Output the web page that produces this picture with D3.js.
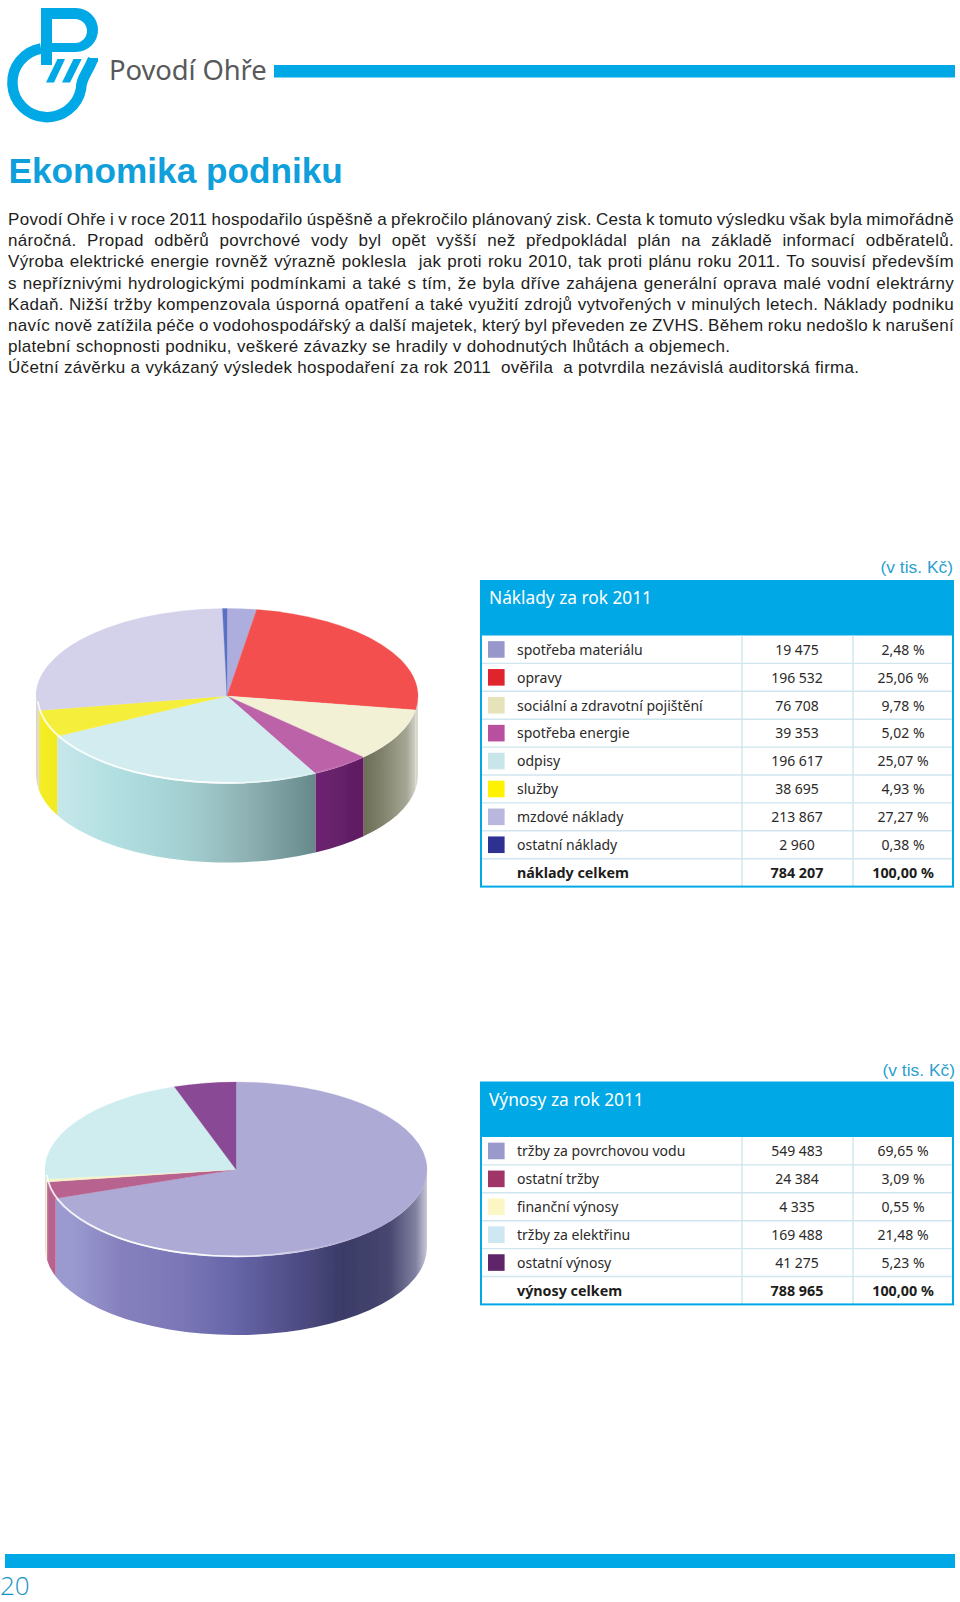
<!DOCTYPE html>
<html lang="cs">
<head>
<meta charset="utf-8">
<title>Ekonomika podniku</title>
<script src="https://cdn.jsdelivr.net/npm/d3@7/dist/d3.min.js"></script>
<style>
html,body{margin:0;padding:0;background:#fff}
svg{display:block}
text{white-space:pre}
</style>
</head>
<body>
<svg id="page" width="960" height="1602" viewBox="0 0 960 1602" xmlns="http://www.w3.org/2000/svg"></svg>
<script>
// ---------- data ----------
const costCategories = ["spotřeba materiálu","opravy","sociální a zdravotní pojištění","spotřeba energie","odpisy","služby","mzdové náklady","ostatní náklady"];
const costValues = [19475,196532,76708,39353,196617,38695,213867,2960];
const costShares = [2.48,25.06,9.78,5.02,25.07,4.93,27.27,0.38];
const costTotalLabel = "náklady celkem";
const costTotal = 784207;
const costTitle = "Náklady za rok 2011";

const revenueCategories = ["tržby za povrchovou vodu","ostatní tržby","finanční výnosy","tržby za elektřinu","ostatní výnosy"];
const revenueValues = [549483,24384,4335,169488,41275];
const revenueShares = [69.65,3.09,0.55,21.48,5.23];
const revenueTotalLabel = "výnosy celkem";
const revenueTotal = 788965;
const revenueTitle = "Výnosy za rok 2011";

const totalShare = 100;
const unitLabel = "(v tis. Kč)";
const pageNumber = "20";
const companyName = "Povodí Ohře";
const heading = "Ekonomika podniku";
const paragraphLines = [
 "Povodí Ohře i v roce 2011 hospodařilo úspěšně a překročilo plánovaný zisk. Cesta k tomuto výsledku však byla mimořádně",
 "náročná. Propad odběrů povrchové vody byl opět vyšší než předpokládal plán na základě informací odběratelů.",
 "Výroba elektrické energie rovněž výrazně poklesla  jak proti roku 2010, tak proti plánu roku 2011. To souvisí především",
 "s nepříznivými hydrologickými podmínkami a také s tím, že byla dříve zahájena generální oprava malé vodní elektrárny",
 "Kadaň. Nižší tržby kompenzovala úsporná opatření a také využití zdrojů vytvořených v minulých letech. Náklady podniku",
 "navíc nově zatížila péče o vodohospodářský a další majetek, který byl převeden ze ZVHS. Během roku nedošlo k narušení",
 "platební schopnosti podniku, veškeré závazky se hradily v dohodnutých lhůtách a objemech.",
 "Účetní závěrku a vykázaný výsledek hospodaření za rok 2011  ověřila  a potvrdila nezávislá auditorská firma."
];

// ---------- palettes ----------
const BLUE = "#00a8e6";
const costTop = ["#adaede","#f4504f","#f2f1d5","#bb62a9","#d2ecef","#f5ee3b","#d3d2ea","#5a6fc0"];
const costSwatch = ["#9797cc","#e0242e","#e6e2b9","#b8509f","#c8e6e9","#fff200","#b9b7dd","#2e3192"];
const costSide = [
 [[0,"#888"],[1,"#888"]],
 [[.97,"#a6a695"],[1,"#dcdcd4"]],
 [[.84,"#656650"],[.9,"#7e7f68"],[.97,"#a6a695"],[1,"#dcdcd4"]],
 [[.73,"#6e2472"],[.84,"#5f1e63"]],
 [[.06,"#c6e7ea"],[.2,"#b2e0e2"],[.4,"#a2ced0"],[.55,"#8fb2b4"],[.73,"#668a8b"]],
 [[0,"#e6dea0"],[.015,"#f5ee20"],[.06,"#f0e820"]],
 [[0,"#dcd4d0"],[.02,"#e4ddb0"]],
 [[0,"#556"],[1,"#556"]]
];
const revenueTop = ["#aeaad6","#b8628f","#f6f3c8","#cfecef","#8a4a95"];
const revenueSwatch = ["#9999cc","#a03468","#fbf6c3","#cfe7f2","#5f2469"];
const revenueSide = [
 [[.07,"#9a9ad0"],[.2,"#8580bd"],[.35,"#7c78b8"],[.5,"#6565a8"],[.66,"#4f4c85"],[.78,"#3b3b68"],[.9,"#46466f"],[.97,"#8080a0"],[1,"#c8c8d8"]],
 [[0,"#e0b0c4"],[.01,"#b8628e"],[.06,"#b8628e"]],
 [[0,"#f6f3c8"],[1,"#f6f3c8"]],
 [[0,"#ddd"],[1,"#ddd"]],
 [[0,"#553"],[1,"#553"]]
];

// ---------- helpers ----------
const svg = d3.select("#page");
const defs = svg.append("defs");
defs.append("filter").attr("id","soft").attr("x","-5%").attr("y","-5%").attr("width","110%").attr("height","110%")
  .append("feGaussianBlur").attr("stdDeviation",0.55);

const locale = d3.formatLocale({decimal:",",thousands:" ",grouping:[3],currency:["",""]});
const fmtValue = locale.format(",d");
const fmtShare = v => locale.format(".2f")(v) + " %";

const ARIAL = "'Liberation Sans', Arial, sans-serif";
const HUMAN = "'Noto Sans', 'Open Sans', sans-serif";

// ---------- page furniture ----------
const logo = svg.append("g").attr("fill",BLUE);
logo.append("path").attr("fill-rule","evenodd")
  .attr("d","M41,8 H76 A22,22 0 0 1 76,52 H52 V65 H41 Z M52,19 V43 H75 A12,12 0 0 0 75,19 Z");
logo.append("path").attr("fill","none").attr("stroke",BLUE).attr("stroke-width",10.5)
  .attr("d","M41,48.5 A34.6,34.6 0 1 0 81,89 C81,78 87,74 93,59");
logo.append("rect").attr("x",88).attr("y",58).attr("width",10).attr("height",4);
logo.append("path").attr("d","M57.5,59 H65 L54,82.5 H46 Z");
logo.append("path").attr("d","M73.5,59 H81.7 L70,82.5 H62 Z");

svg.append("text").attr("x",109).attr("y",80).attr("fill","#58595b")
  .attr("font-family",HUMAN).attr("font-size",27.4).attr("letter-spacing",-0.1).text(companyName);
svg.append("rect").attr("x",274).attr("y",65).attr("width",681).attr("height",12.5).attr("fill",BLUE);

svg.append("text").attr("x",8.5).attr("y",182.5).attr("fill","#0f9fdb")
  .attr("font-family",ARIAL).attr("font-weight",700).attr("font-size",35.2).text(heading);

const LEFT = 8, RIGHT = 954;
const para = svg.append("g").attr("font-family",ARIAL).attr("font-size",17).attr("letter-spacing",0.3).attr("fill","#1d1d1b");
paragraphLines.forEach((line,i)=>{
  const t = para.append("text").attr("x",LEFT).attr("y",225+i*21.2).text(line);
  if(i < 6){
    const gaps = line.split(" ").length-1;
    const w = t.node().getComputedTextLength();
    t.attr("word-spacing",(RIGHT-LEFT-w)/gaps);
  }
});

svg.append("rect").attr("x",5).attr("y",1554).attr("width",950).attr("height",14).attr("fill",BLUE);
svg.append("text").attr("x",0).attr("y",1595).attr("fill","#1593c6")
  .attr("font-family","'Open Sans', sans-serif").attr("font-weight",300).attr("font-size",26).text(pageNumber);

// ---------- pie ----------
function drawPie(id, values, topColours, sideStops, cx, cy, rx, ry, depth){
  const k = ry/rx, dz = depth/k;
  const pieLayout = d3.pie().sort(null).value(d=>d);
  const arcs = pieLayout(values);
  const arcGen = d3.arc().innerRadius(0).outerRadius(rx);
  const g = svg.append("g").attr("id",id)
    .attr("transform",`translate(${cx},${cy}) scale(1,${k})`)
    .attr("filter","url(#soft)");

  arcs.forEach((a,i)=>{
    const start = Math.max(a.startAngle, Math.PI/2), end = Math.min(a.endAngle, 3*Math.PI/2);
    if(end <= start) return;
    const grad = defs.append("linearGradient").attr("id",`${id}-side-${i}`)
      .attr("gradientUnits","userSpaceOnUse").attr("x1",-rx).attr("x2",rx).attr("y1",0).attr("y2",0);
    sideStops[i].forEach(s=>grad.append("stop").attr("offset",s[0]).attr("stop-color",s[1]));
    const p = d3.path();
    const a0 = start-Math.PI/2, a1 = end-Math.PI/2;
    p.arc(0,0,rx,a0,a1,false);
    p.arc(0,dz,rx,a1,a0,true);
    p.closePath();
    g.append("path").attr("d",p.toString()).attr("fill",`url(#${id}-side-${i})`);
  });

  g.selectAll("path.top").data(arcs).join("path").attr("class","top")
    .attr("d",arcGen).attr("fill",(d,i)=>topColours[i])
    .attr("stroke",(d,i)=>topColours[i]).attr("stroke-width",0.4);

  // bright rim along the near edge of the lid
  const rimId = `${id}-rim`;
  const rim = defs.append("linearGradient").attr("id",rimId)
    .attr("gradientUnits","userSpaceOnUse").attr("x1",-rx).attr("x2",rx).attr("y1",0).attr("y2",0);
  [[.05,.9],[.3,1],[.5,.9],[.72,.15],[.85,0]].forEach(s=>
    rim.append("stop").attr("offset",s[0]).attr("stop-color","#fff").attr("stop-opacity",s[1]));
  const r = d3.path();
  r.arc(0,0,rx-1.5,Math.PI*0.98,Math.PI*0.2,true);
  g.append("path").attr("d",r.toString()).attr("fill","none").attr("stroke",`url(#${rimId})`)
    .attr("stroke-width",1.6).attr("vector-effect","non-scaling-stroke");
}
drawPie("cost",costValues,costTop,costSide,227,696,191,87.5,79);
drawPie("revenue",revenueValues,revenueTop,revenueSide,236,1169.5,191,87.5,78);

// ---------- tables ----------
function drawTable(opts){
  const {top,rowsTop,title,cats,vals,shares,swatches,totalLabel,total,unitY,unitRight} = opts;
  const L=481, R=953, step=27.9, colA=742, colB=853;
  const n = cats.length+1;
  const y = d3.scaleLinear().domain([0,n]).range([rowsTop,rowsTop+n*step]);
  const g = svg.append("g").attr("font-family",HUMAN).attr("font-size",14).attr("fill","#2b2a29");

  svg.append("text").attr("x",unitRight).attr("y",unitY).attr("text-anchor","end").attr("fill","#2b9fcf")
    .attr("font-family",ARIAL).attr("font-size",17.4).text(unitLabel);

  g.append("rect").attr("x",L-1).attr("y",top).attr("width",R-L+2).attr("height",rowsTop-top).attr("fill",BLUE);
  g.append("text").attr("x",489).attr("y",top+23).attr("fill","#fff").attr("font-size",17.3).text(title);

  const lines = g.append("g").attr("stroke","#cfe6ef").attr("stroke-width",1.4);
  d3.range(1,n).forEach(i=>lines.append("line").attr("x1",L).attr("x2",R).attr("y1",y(i)).attr("y2",y(i)));
  [colA,colB].forEach(x=>lines.append("line").attr("x1",x).attr("x2",x).attr("y1",y(0)).attr("y2",y(n)));
  g.append("rect").attr("x",L).attr("y",top).attr("width",R-L).attr("height",y(n)-top)
    .attr("fill","none").attr("stroke",BLUE).attr("stroke-width",2);

  cats.forEach((c,i)=>{
    const mid = y(i)+step/2;
    g.append("rect").attr("x",488).attr("y",mid-8.3).attr("width",16.6).attr("height",16.6).attr("fill",swatches[i]);
    g.append("text").attr("x",517).attr("y",mid+5.3).text(c);
    g.append("text").attr("x",797).attr("y",mid+5.3).attr("text-anchor","middle").text(fmtValue(vals[i]));
    g.append("text").attr("x",903).attr("y",mid+5.3).attr("text-anchor","middle").text(fmtShare(shares[i]));
  });
  const midT = y(n-1)+step/2+5.3;
  const b = g.append("g").attr("font-weight",700).attr("font-size",14.3).attr("fill","#1d1d1b");
  b.append("text").attr("x",517).attr("y",midT).text(totalLabel);
  b.append("text").attr("x",797).attr("y",midT).attr("text-anchor","middle").text(fmtValue(total));
  b.append("text").attr("x",903).attr("y",midT).attr("text-anchor","middle").text(fmtShare(totalShare));
}
drawTable({top:581,rowsTop:635.5,title:costTitle,cats:costCategories,vals:costValues,shares:costShares,
  swatches:costSwatch,totalLabel:costTotalLabel,total:costTotal,unitY:572.7,unitRight:953});
drawTable({top:1082.5,rowsTop:1137,title:revenueTitle,cats:revenueCategories,vals:revenueValues,shares:revenueShares,
  swatches:revenueSwatch,totalLabel:revenueTotalLabel,total:revenueTotal,unitY:1076,unitRight:955});
</script>
</body>
</html>
